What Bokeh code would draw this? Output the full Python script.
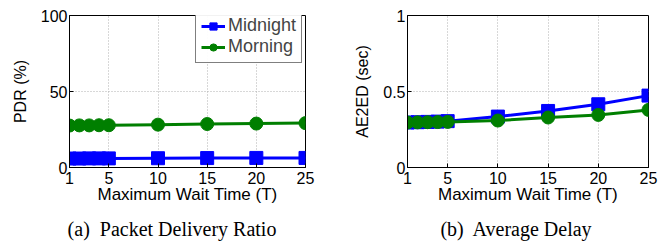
from bokeh.plotting import figure
from bokeh.layouts import row, column
from bokeh.models import Range1d, FixedTicker, Legend, Div
from bokeh.embed import file_html
from bokeh.resources import INLINE

wait_time = [1, 2, 3, 4, 5, 10, 15, 20, 25]
pdr_midnight = [5.9, 5.9, 6.0, 6.0, 6.0, 6.1, 6.2, 6.3, 6.3]
pdr_morning = [27.6, 27.7, 27.7, 27.8, 27.8, 28.2, 28.6, 28.9, 29.2]
delay_midnight = [0.296, 0.298, 0.300, 0.302, 0.305, 0.335, 0.372, 0.416, 0.473]
delay_morning = [0.296, 0.297, 0.298, 0.299, 0.300, 0.309, 0.329, 0.346, 0.379]
x_ticks = [1, 5, 10, 15, 20, 25]
captions = ["(a)&nbsp; Packet Delivery Ratio", "(b)&nbsp; Average Delay"]

BLUE = "#0000ff"
GREEN = "#007f00"
FONT = "Liberation Sans"


def make_panel(ymid, ymor, yticks, ymax, ylabel, caption, legend, border_left, border_right, overrides):
    p = figure(width=334, height=206, output_backend="svg", toolbar_location=None,
               x_range=Range1d(1, 25), y_range=Range1d(0, ymax),
               min_border_left=border_left, min_border_right=border_right,
               min_border_top=15, min_border_bottom=38)
    p.outline_line_color = "black"
    p.outline_line_width = 1
    p.background_fill_color = "white"
    p.border_fill_color = "white"
    p.xaxis.ticker = FixedTicker(ticks=x_ticks)
    p.yaxis.ticker = FixedTicker(ticks=yticks)
    if overrides:
        p.yaxis.major_label_overrides = overrides
    for ax in (p.xaxis, p.yaxis):
        ax.major_label_text_font = FONT
        ax.major_label_text_font_size = "16px"
        ax.axis_label_text_font = FONT
        ax.axis_label_text_font_style = "normal"
        ax.axis_line_color = "black"
        ax.major_tick_in = 4
        ax.major_tick_out = 0
        ax.minor_tick_line_color = None
        ax.major_label_text_color = "black"
        ax.axis_label_text_color = "black"
    p.xaxis.axis_label = "Maximum Wait Time (T)"
    p.xaxis.axis_label_text_font_size = "17px"
    p.xaxis.major_label_standoff = 4
    p.xaxis.axis_label_standoff = -2
    p.yaxis.axis_label = ylabel
    p.yaxis.axis_label_text_font_size = "16px"
    p.yaxis.major_label_standoff = 2
    p.yaxis.axis_label_standoff = 9
    p.grid.grid_line_color = "#b0b0b0"
    p.grid.grid_line_dash = "1 2"
    p.grid.grid_line_width = 1
    p.xgrid.ticker = FixedTicker(ticks=x_ticks)
    p.ygrid.ticker = FixedTicker(ticks=yticks)

    l1 = p.line(wait_time, ymid, line_color=BLUE, line_width=3)
    m1 = p.scatter(wait_time, ymid, marker="square", size=13, fill_color=BLUE, line_color=BLUE)
    l2 = p.line(wait_time, ymor, line_color=GREEN, line_width=3)
    m2 = p.scatter(wait_time, ymor, marker="circle", size=13, fill_color=GREEN, line_color=GREEN)

    if legend:
        leg = Legend(items=[("Midnight", [l1, m1]), ("Morning", [l2, m2])],
                     location=(126, 104))
        leg.label_text_font = FONT
        leg.label_text_font_size = "18px"
        leg.border_line_color = "black"
        leg.border_line_width = 1
        leg.margin = 0
        leg.padding = 5
        leg.spacing = 0
        leg.glyph_width = 24
        leg.glyph_height = 18
        leg.label_standoff = 3
        leg.label_height = 18
        p.add_layout(leg)

    d = Div(text=('<div style="width:334px;text-align:center;font-family:\'Liberation Serif\';'
                  'font-size:20px;line-height:23px;padding-top:7px;color:black;">'
                  + caption + '</div>'),
            width=334, height=30)
    return column(p, d, spacing=0)


c1 = make_panel(pdr_midnight, pdr_morning, [0, 50, 100], 100, "PDR (%)",
                captions[0], True, 69, 29, None)
c2 = make_panel(delay_midnight, delay_morning, [0, 0.5, 1], 1, "AE2ED (sec)",
                captions[1], False, 63, 30, {0: "0", 0.5: "0.5", 1: "1"})

layout = row(c1, c2, spacing=0)
open("out.html", "w").write(file_html(layout, INLINE))
